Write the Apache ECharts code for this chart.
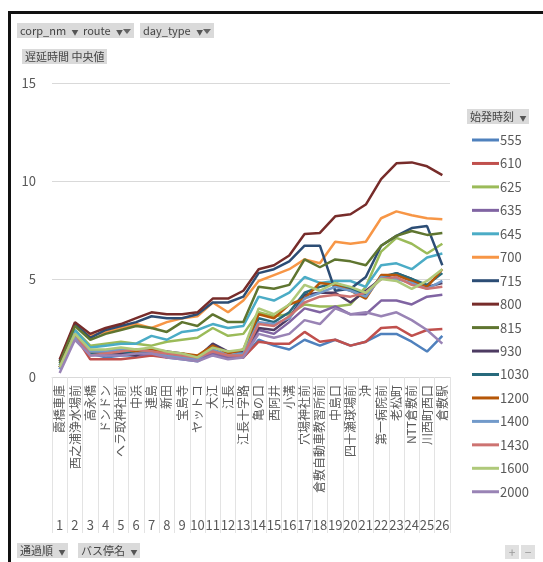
<!doctype html>
<html>
<head>
<meta charset="utf-8">
<title>遅延時間 中央値</title>
<script src="https://cdn.jsdelivr.net/npm/echarts@6/dist/echarts.min.js"></script>
<style>
	body{margin:0;background:#fff;font-family:"Noto Sans CJK JP",sans-serif;}
	.wrap{position:relative;width:543px;height:562px;overflow:hidden;}
	#chart{position:absolute;left:0;top:0;width:543px;height:562px;}
	.frame{position:absolute;left:8px;top:11px;width:600px;height:600px;border-top:3px solid #111;border-left:3px solid #111;pointer-events:none;}
	.btn{position:absolute;background:#dadada;color:#444;font-size:11px;line-height:15px;height:15px;padding:0 3px;white-space:nowrap;}
	.arr{font-size:7px;color:#555;margin-left:3px;}
	.fun{display:inline-block;width:0;height:0;border-left:4px solid transparent;border-right:4px solid transparent;border-top:5px solid #666;position:relative;top:-1px;}
	.pm{position:absolute;top:545px;width:14px;height:14px;background:#e0e0e0;color:#999;font-size:12px;line-height:14px;text-align:center;}
</style>
</head>
<body>
<div class="wrap">
	<div id="chart"></div>
	<div class="frame"></div>
	<div class="btn" style="left:17px;top:23px;">corp_nm <span class="arr">▼</span></div>
	<div class="btn" style="left:80px;top:23px;">route <span class="arr">▼</span><span class="fun"></span></div>
	<div class="btn" style="left:140px;top:23px;">day_type <span class="arr">▼</span><span class="fun"></span></div>
	<div class="btn" style="left:22px;top:49px;">遅延時間 中央値</div>
	<div class="btn" style="left:467px;top:109px;">始発時刻 <span class="arr">▼</span></div>
	<div class="btn" style="left:17px;top:543px;">通過順 <span class="arr">▼</span></div>
	<div class="btn" style="left:78px;top:543px;">バス停名 <span class="arr">▼</span></div>
	<div class="pm" style="left:505px;">+</div>
	<div class="pm" style="left:521px;">−</div>
</div>
<script type="text/javascript">
	// 通過順・バス停名
	var orderNo = ['1','2','3','4','5','6','7','8','9','10','11','12','13','14','15','16','17','18','19','20','21','22','23','24','25','26'];
	var stopNames = ['霞橋車庫','西之浦浄水場前','高永橋','ドンドン','へラ取神社前','中浜','連島','新田','宝島寺','ヤットコ','大江','江長','江長十字路','亀の口','西阿井','小溝','穴場神社前','倉敷自動車教習所前','中島口','四十瀬球場前','沖','第一病院前','老松町','NTT倉敷前','川西町西口','倉敷駅'];
	var yTicks = [0, 5, 10, 15];

	// 始発時刻ごとの遅延時間 中央値
	var s555  = [0.4,2.2,1.2,1.0,1.1,1.1,1.2,1.0,0.9,0.8,1.2,1.0,1.0,1.9,1.6,1.4,1.9,1.6,1.9,1.6,1.8,2.2,2.2,1.8,1.3,2.1];
	var s610  = [0.5,2.1,0.9,0.9,0.9,1.0,1.1,1.0,1.0,0.9,1.3,1.0,1.0,1.8,1.7,1.7,2.3,1.8,1.9,1.6,1.8,2.5,2.55,2.1,2.4,2.45];
	var s625  = [0.6,2.4,1.6,1.7,1.8,1.7,1.6,1.8,1.9,2.0,2.5,2.1,2.2,3.3,3.1,3.2,3.7,3.6,3.6,3.7,4.6,6.4,7.1,6.8,6.3,6.8];
	var s635  = [0.5,2.0,1.2,1.2,1.2,1.1,1.2,1.1,1.0,0.9,1.2,1.0,1.1,2.4,2.2,2.8,3.5,3.3,3.6,3.2,3.2,3.9,3.9,3.7,4.1,4.2];
	var s645  = [0.6,2.4,1.5,1.6,1.7,1.7,2.1,1.9,2.3,2.4,2.7,2.5,2.6,4.1,3.9,4.3,5.1,4.8,4.9,4.9,4.6,5.7,5.8,5.5,6.1,6.3];
	var s700  = [0.8,2.7,2.1,2.3,2.5,2.7,2.5,2.8,3.0,3.1,3.8,3.3,3.9,4.9,5.2,5.5,6.0,5.8,6.9,6.8,6.9,8.1,8.45,8.25,8.1,8.05];
	var s715  = [0.8,2.7,2.0,2.4,2.6,2.8,3.1,3.0,3.0,3.2,3.8,3.8,4.1,5.3,5.5,5.9,6.7,6.7,4.4,4.5,5.1,6.7,7.2,7.6,7.7,5.7];
	var s800  = [0.9,2.8,2.2,2.5,2.7,3.0,3.3,3.2,3.2,3.3,4.0,4.0,4.4,5.5,5.7,6.2,7.3,7.35,8.2,8.3,8.8,10.1,10.9,10.95,10.75,10.3];
	var s815  = [0.7,2.6,1.9,2.2,2.4,2.6,2.5,2.3,2.8,2.6,3.2,2.8,2.8,4.6,4.5,4.7,6.0,5.6,6.0,5.9,5.7,6.7,7.2,7.45,7.25,7.35];
	var s930  = [0.5,2.0,1.2,1.2,1.2,1.1,1.4,1.3,1.2,1.0,1.7,1.3,1.3,2.5,2.4,3.0,4.2,4.3,4.3,3.8,4.4,5.0,5.3,5.0,4.6,4.8];
	var s1030 = [0.5,2.1,1.2,1.2,1.3,1.2,1.3,1.2,1.1,1.0,1.4,1.1,1.2,3.0,2.8,3.3,4.3,4.6,4.8,4.5,4.2,5.1,5.3,5.0,4.7,5.3];
	var s1200 = [0.5,2.1,1.3,1.3,1.4,1.3,1.4,1.2,1.2,1.1,1.6,1.2,1.4,3.2,3.0,3.7,4.0,4.8,4.7,4.4,4.0,5.2,5.2,4.9,4.6,5.5];
	var s1400 = [0.4,2.0,1.3,1.3,1.4,1.4,1.3,1.1,1.0,0.9,1.4,1.1,1.2,2.8,2.7,3.0,4.0,4.3,4.6,4.4,4.1,5.1,5.0,4.8,4.5,4.9];
	var s1430 = [0.5,2.2,1.1,1.2,1.3,1.4,1.3,1.2,1.1,1.0,1.3,1.1,1.1,2.7,2.6,3.1,3.8,4.1,4.2,4.1,4.3,5.0,5.1,4.7,4.5,4.6];
	var s1600 = [0.5,2.2,1.4,1.4,1.5,1.4,1.5,1.3,1.2,1.0,1.5,1.3,1.4,3.5,3.2,3.7,4.7,4.4,4.8,4.6,4.3,5.0,4.9,4.5,4.9,5.5];
	var s2000 = [0.2,1.9,1.1,1.1,1.1,1.2,1.2,1.0,0.9,0.8,1.1,0.9,1.0,2.2,2.0,2.2,2.9,2.7,3.5,3.2,3.3,3.1,3.3,2.9,2.4,1.7];

	var seriesNames = ['555','610','625','635','645','700','715','800','815','930','1030','1200','1400','1430','1600','2000'];
	var seriesData = [s555,s610,s625,s635,s645,s700,s715,s800,s815,s930,s1030,s1200,s1400,s1430,s1600,s2000];
	var colors = ['#4F81BD','#C0504D','#9BBB59','#8064A2','#4BACC6','#F79646','#2C4D75','#772C2A','#5F7530','#4D3B62','#276A7C','#B65708','#729ACA','#CD7371','#AFC97A','#9983B5'];

	var series = seriesNames.map(function(name, i){
		return {
			name: name,
			type: 'line',
			data: seriesData[i],
			showSymbol: false,
			symbol: 'none',
			lineStyle: { width: 2.5, color: colors[i] },
			itemStyle: { color: colors[i] }
		};
	});

	var chart = echarts.init(document.getElementById('chart'));
	var option = {
		animation: false,
		backgroundColor: '#fff',
		textStyle: { fontFamily: '"Noto Sans CJK JP", sans-serif' },
		grid: { left: 52, right: 93, top: 83, bottom: 185 },
		legend: {
			orient: 'vertical',
			left: 467,
			top: 128,
			icon: 'rect',
			itemWidth: 27,
			itemHeight: 3,
			itemGap: 9.45,
			data: seriesNames,
			textStyle: { color: '#595959', fontSize: 13, lineHeight: 14, padding: [0, 0, 0, -4] }
		},
		xAxis: [{
			type: 'category',
			data: stopNames,
			boundaryGap: true,
			axisLine: { show: true, lineStyle: { color: '#d9d9d9' } },
			axisTick: { show: true, length: 156, lineStyle: { color: '#e3e3e3' } },
			axisLabel: { rotate: 90, interval: 0, margin: 8, color: '#595959', fontSize: 12 }
		}, {
			type: 'category',
			data: orderNo,
			position: 'bottom',
			offset: 136,
			boundaryGap: true,
			axisLine: { show: false },
			axisTick: { show: false },
			axisLabel: { interval: 0, margin: 6, color: '#595959', fontSize: 13 }
		}],
		yAxis: {
			type: 'value',
			min: yTicks[0],
			max: yTicks[yTicks.length - 1],
			interval: 5,
			axisLine: { show: false },
			axisTick: { show: false },
			axisLabel: { color: '#595959', fontSize: 13, margin: 16 },
			splitLine: { lineStyle: { color: '#d9d9d9' } }
		},
		series: series
	};
	chart.setOption(option);
</script>
</body>
</html>
